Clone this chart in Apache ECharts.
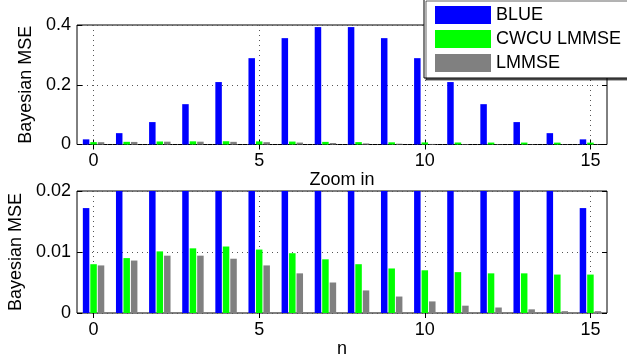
<!DOCTYPE html>
<html>
<head>
<meta charset="utf-8">
<script src="https://cdn.jsdelivr.net/npm/echarts@6/dist/echarts.min.js"></script>
<style>
  html, body { margin: 0; padding: 0; background: #fff; }
  #chart { width: 627px; height: 354px; }
</style>
</head>
<body>
<div id="chart"></div>
<script>
// sample index n
const nValues = ["0", "1", "2", "3", "4", "5", "6", "7", "8", "9", "10", "11", "12", "13", "14", "15"];
const seriesNames = ["BLUE", "CWCU LMMSE", "LMMSE"];
const blueMse = [0.0172, 0.038, 0.075, 0.135, 0.209, 0.289, 0.356, 0.393, 0.393, 0.356, 0.289, 0.209, 0.135, 0.075, 0.038, 0.0172];
const cwcuMse = [0.0080, 0.0090, 0.0101, 0.0106, 0.0109, 0.0104, 0.0098, 0.0088, 0.0080, 0.0073, 0.0070, 0.0067, 0.0065, 0.0065, 0.0063, 0.0063];
const lmmseMse = [0.0078, 0.0086, 0.0094, 0.0094, 0.0089, 0.0078, 0.0065, 0.0050, 0.0037, 0.0027, 0.0019, 0.0012, 0.0009, 0.0006, 0.0003, 0.0003];
const colors = ["#0000ff", "#00ff00", "#808080"];

const font = "Liberation Sans";
const chart = echarts.init(document.getElementById("chart"));

const gridLine = { show: true, lineStyle: { color: "#555", type: [1, 4], width: 1 } };

function xAxes(gridIndex, name, nameGap) {
  return [
    {
      type: "category", gridIndex, data: nValues, position: "bottom",
      name, nameLocation: "middle", nameGap,
      nameTextStyle: { color: "#000", fontSize: 18, fontFamily: font },
      axisLine: { show: false },
      axisTick: { show: true, inside: true, length: 5, interval: 4, alignWithLabel: true, lineStyle: { color: "#000" } },
      axisLabel: { interval: 4, color: "#000", fontSize: 18, fontFamily: font, margin: 8 },
      splitLine: Object.assign({ interval: 4, alignWithLabel: true }, gridLine)
    },
    {
      type: "category", gridIndex, data: nValues, position: "top",
      axisLine: { show: false },
      axisTick: { show: true, inside: true, length: 5, interval: 4, alignWithLabel: true, lineStyle: { color: "#000" } },
      axisLabel: { show: false },
      splitLine: { show: false }
    }
  ];
}

function yAxes(gridIndex, max, interval, nameGap) {
  return [
    {
      type: "value", gridIndex, min: 0, max, interval, position: "left",
      name: "Bayesian MSE", nameLocation: "middle", nameGap, nameRotate: 90,
      nameTextStyle: { color: "#000", fontSize: 18, fontFamily: font },
      axisLine: { show: false },
      axisTick: { show: true, inside: true, length: 5, lineStyle: { color: "#000" } },
      axisLabel: { color: "#000", fontSize: 18, fontFamily: font, margin: 6 },
      splitLine: gridLine
    },
    {
      type: "value", gridIndex, min: 0, max, interval, position: "right",
      axisLine: { show: false },
      axisTick: { show: true, inside: true, length: 5, lineStyle: { color: "#000" } },
      axisLabel: { show: false },
      splitLine: { show: false }
    }
  ];
}

function bars(xIdx, yIdx) {
  const vals = [blueMse, cwcuMse, lmmseMse];
  return seriesNames.map((name, i) => ({
    name, type: "bar", xAxisIndex: xIdx, yAxisIndex: yIdx,
    data: vals[i], barWidth: 6.5, barGap: "15%",
    itemStyle: { color: colors[i] }, clip: true
  }));
}

const option = {
  animation: false,
  backgroundColor: "#fff",
  grid: [
    { left: 77, right: 20, top: 25, height: 119.5, outerBoundsMode: "none", show: true, borderColor: "#000", borderWidth: 1, backgroundColor: "transparent" },
    { left: 77, right: 20, top: 191, height: 122, outerBoundsMode: "none", show: true, borderColor: "#000", borderWidth: 1, backgroundColor: "transparent" }
  ],
  legend: {
    data: seriesNames,
    orient: "vertical",
    left: 424, top: -1,
    padding: [7, 20, 6, 11],
    itemWidth: 56, itemHeight: 18, itemGap: 6,
    icon: "rect",
    backgroundColor: "#fff",
    borderColor: "#000", borderWidth: 1,
    shadowColor: "rgba(0,0,0,0.6)", shadowOffsetX: 2, shadowOffsetY: 2, shadowBlur: 0,
    textStyle: { color: "#000", fontSize: 18, fontFamily: font },
    z: 10
  },
  xAxis: xAxes(0, "Zoom in", 22).concat(xAxes(1, "n", 19)),
  yAxis: yAxes(0, 0.4, 0.2, 41).concat(yAxes(1, 0.02, 0.01, 49)),
  series: bars(0, 0).concat(bars(2, 2))
};
chart.setOption(option);
</script>
</body>
</html>
